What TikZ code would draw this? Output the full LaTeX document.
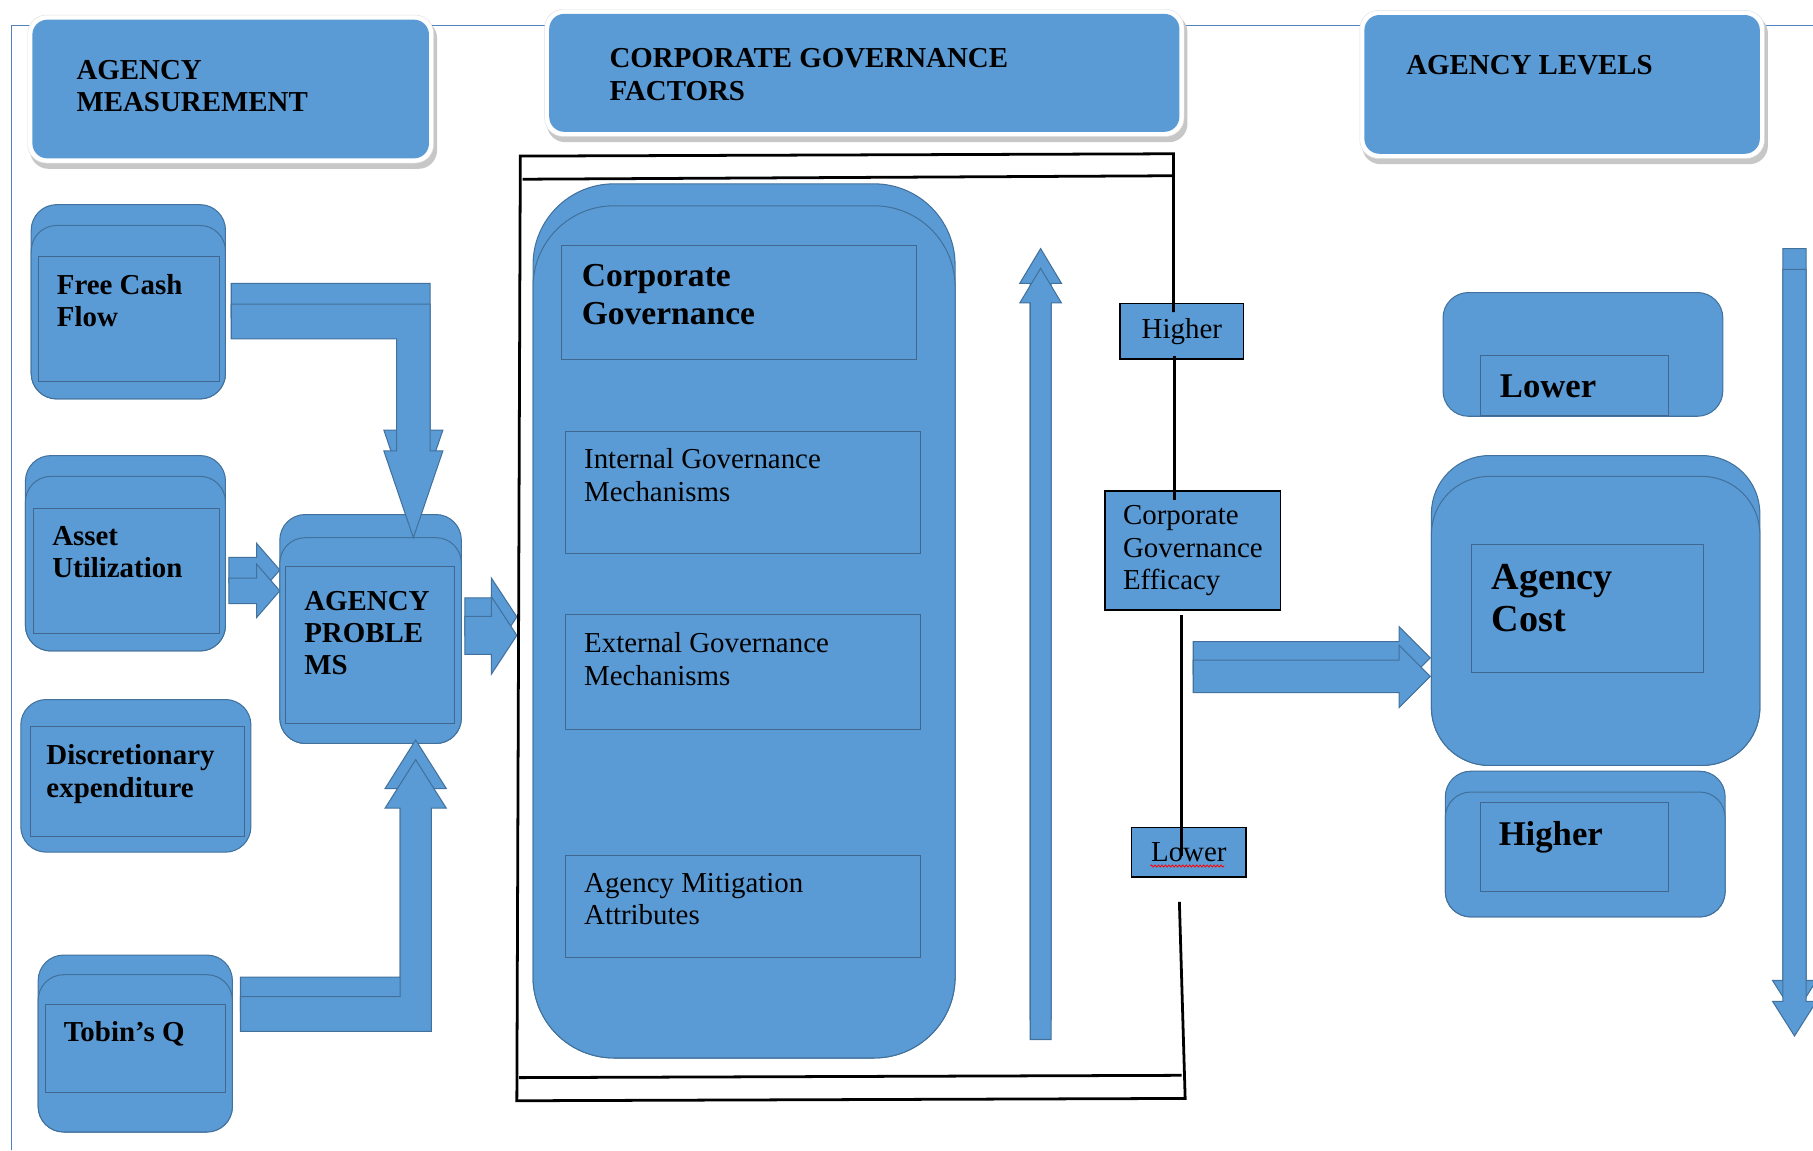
\documentclass[tikz,border=0pt]{standalone}
\usepackage{fontspec}
\setmainfont{Liberation Serif}
\usetikzlibrary{decorations.pathmorphing}
\definecolor{boxblue}{RGB}{91,155,213}
\definecolor{edgeblue}{RGB}{65,113,156}
\definecolor{rectblue}{RGB}{66,104,146}
\definecolor{frameblue}{RGB}{79,129,189}
\tikzset{
  rbox/.style={fill=boxblue,draw=edgeblue,line width=0.9pt,rounded corners=#1},
  rbox/.default=22pt,
  inrect/.style={draw=rectblue,line width=0.8pt},
  blockarr/.style={fill=boxblue,draw=edgeblue,line width=0.9pt,line join=miter},
  smallbox/.style={fill=boxblue,draw=black,line width=1.3pt,inner sep=0pt,align=left,
    font=\fontsize{25}{28}\selectfont},
  frameline/.style={black,line width=2.4pt},
  lbl/.style={anchor=north west,inner sep=0pt,align=left,font=\fontsize{25}{28}\selectfont\bfseries},
  txt/.style={anchor=north west,inner sep=0pt,align=left,font=\fontsize{25}{28}\selectfont},
  cgtitle/.style={lbl,font=\fontsize{29}{33}\selectfont\bfseries},
  lvl/.style={lbl,font=\fontsize{#1}{36}\selectfont\bfseries},
}
\newcommand{\headbox}[4]{%
  \fill[black!22,rounded corners=16pt] (#1+2,#2+4) rectangle (#3+3,#4+5);
  \filldraw[fill=white,draw=black!12,rounded corners=16pt] (#1,#2) rectangle (#3,#4);
  \fill[boxblue,rounded corners=13pt] (#1+4,#2+4) rectangle (#3-4,#4-4);
}
\newcommand{\twinbox}[6]{%
  \filldraw[rbox=#6] (#1,#2) rectangle (#3,#4);
  \filldraw[rbox=#6] (#1,#5) rectangle (#3,#4);
}
\newcommand{\twinarrow}[2]{\foreach \d in {0,#1}{\filldraw[blockarr,shift={(0,\d)}] #2;}}

\begin{document}
\begin{tikzpicture}[x=1pt,y=-1pt]
\useasboundingbox (0,0) rectangle (1568,995);
\clip (0,0) rectangle (1568,995);
\draw[frameblue,line width=1pt] (10,995) -- (10,22) -- (1568,22);

% headings
\headbox{24}{13}{375}{141}
\headbox{471}{8}{1024}{118}
\headbox{1176}{9}{1526}{137}
\node[lbl] (meas) at (66,52) {AGENCY\\MEASUREMENT};
\node[lbl] (cgf) at (527,42) {CORPORATE GOVERNANCE\\FACTORS};
\node[lbl] (lev) at (1216,48) {AGENCY LEVELS};

% measurement boxes
\twinbox{27}{177}{195}{345}{195}{22pt}
\draw[inrect] (33,222) rectangle (190,330);
\twinbox{22}{394}{195}{563}{412}{22pt}
\draw[inrect] (29,440) rectangle (190,548);
\filldraw[rbox] (18,605) rectangle (217,737);
\draw[inrect] (26,628) rectangle (211,723);
\twinbox{33}{826}{201}{979}{843}{22pt}
\draw[inrect] (39,869) rectangle (195,945);
\twinbox{242}{445}{399}{643}{465}{22pt}
\draw[inrect] (247,490) rectangle (393,626);
\node[lbl] (fcf) at (49,237) {Free Cash\\Flow};
\node[lbl] (asset) at (45,455) {Asset\\Utilization};
\node[lbl] (disc) at (40,644) {Discretionary\\expenditure};
\node[lbl] (tobin) at (55,883) {Tobin’s Q};
\node[lbl] (prob) at (263,511) {AGENCY\\PROBLE\\MS};

% block arrows
\twinarrow{18}{(200,245) -- (372,245) -- (372,372) -- (383,372) -- (357.5,447) -- (332,372) -- (343,372) -- (343,275) -- (200,275) -- cycle}
\twinarrow{17}{(208,845) -- (346,845) -- (346,682) -- (333,682) -- (359.5,640) -- (386,682) -- (373,682) -- (373,875) -- (208,875) -- cycle}
\twinarrow{18}{(198,482) -- (222,482) -- (222,470) -- (242,493) -- (222,516) -- (222,504) -- (198,504) -- cycle}
\twinarrow{16}{(402,517) -- (425,517) -- (425,500) -- (447,533.5) -- (425,567) -- (425,550) -- (402,550) -- cycle}

% governance panel
\twinbox{461}{159}{826}{915}{178}{70pt}
\draw[inrect] (486,212) rectangle (793,311);
\draw[inrect] (489,373) rectangle (796,479);
\draw[inrect] (489,531) rectangle (796,631);
\draw[inrect] (489,740) rectangle (796,828);
\node[cgtitle] (cg) at (503,228) {Corporate\\Governance};
\node[txt] (igm) at (505,388) {Internal Governance\\Mechanisms};
\node[txt] (egm) at (505,547) {External Governance\\Mechanisms};
\node[txt] (ama) at (505,755) {Agency Mitigation\\Attributes};
\twinarrow{17}{(891,882) -- (891,245) -- (882,245) -- (900,215) -- (918,245) -- (909,245) -- (909,882) -- cycle}

% efficacy scale
\node[smallbox,minimum width=107pt,minimum height=48pt,anchor=north west] (hi) at (968,262) {Higher};
\node[smallbox,minimum width=152pt,minimum height=103pt,anchor=north west] (cge) at (955,424) {Corporate\\Governance\\Efficacy};
\node[smallbox,minimum width=99pt,minimum height=43pt,anchor=north west] (lo) at (978,715) {Lower};
\draw[red,line width=0.7pt,decorate,decoration={snake,amplitude=0.9pt,segment length=3pt}] (995,749) -- (1059,749);
\draw[frameline] (1015,270) -- (1015,133) -- (450,135) -- (447,952) -- (1025,950) -- (1020,780);
\draw[frameline] (452,155) -- (1015,152);
\draw[frameline] (449,932) -- (1022,930);
\draw[frameline] (1016,308) -- (1016,432);
\draw[frameline] (1022,532) -- (1022,740);
\twinarrow{16}{(1032,555) -- (1210,555) -- (1210,542) -- (1237,569) -- (1210,596) -- (1210,583) -- (1032,583) -- cycle}

% agency levels
\filldraw[rbox] (1248,253) rectangle (1490,360);
\draw[inrect] (1280,307) rectangle (1443,359);
\twinbox{1238}{394}{1522}{662}{412}{50pt}
\draw[inrect] (1273,471) rectangle (1473,582);
\twinbox{1250}{667}{1492}{793}{685}{22pt}
\draw[inrect] (1280,694) rectangle (1443,771);
\node[lvl=30] (low) at (1297,324) {Lower};
\node[lvl=33] (cost) at (1290,488) {Agency\\Cost};
\node[lvl=30] (high) at (1296,710) {Higher};
\twinarrow{18}{(1542,215) -- (1562,215) -- (1562,848) -- (1571,848) -- (1552,878) -- (1533,848) -- (1542,848) -- cycle}
\end{tikzpicture}
\end{document}
